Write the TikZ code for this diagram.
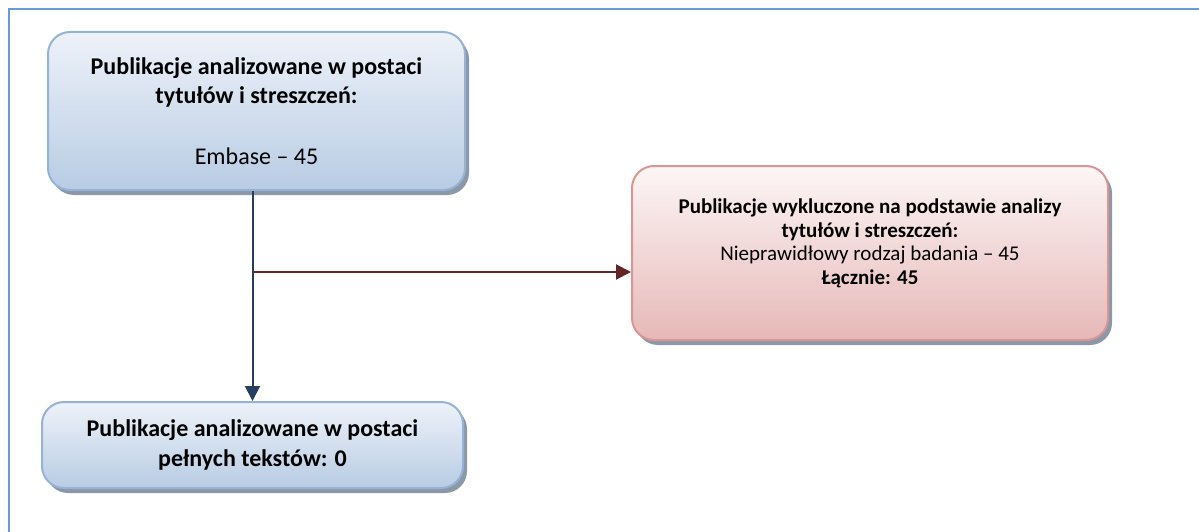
\documentclass[tikz,border=0pt]{standalone}
\usepackage{fontspec}
\setmainfont{Carlito}
\usetikzlibrary{shadows,arrows.meta}

\definecolor{frameblue}{HTML}{6A98DC}
\definecolor{blueedge}{HTML}{95B3D7}
\definecolor{bluetop}{HTML}{EEF2F9}
\definecolor{bluebot}{HTML}{B8CCE4}
\definecolor{redtop}{HTML}{FDF6F6}
\definecolor{redbot}{HTML}{E6B8B7}
\definecolor{rededge}{HTML}{D99694}
\definecolor{navyline}{HTML}{243F60}
\definecolor{maroonline}{HTML}{632523}
\definecolor{shadowgray}{HTML}{8C98A8}

\tikzset{
  x=1pt, y=-1pt,
  flowbox/.style={rounded corners=22pt, line width=2pt, align=center,
    font=\fontsize{24}{29.5}\selectfont,
    drop shadow={shadow xshift=4pt, shadow yshift=-5pt, fill=shadowgray, opacity=1}},
  bluebox/.style={flowbox, draw=blueedge, top color=bluetop, bottom color=bluebot},
  redbox/.style={flowbox, draw=rededge, top color=redtop, bottom color=redbot},
  navyarrow/.style={draw=navyline, line width=2pt, -{Triangle[length=15pt,width=15pt]}},
  maroonarrow/.style={draw=maroonline, line width=2pt, -{Triangle[length=15pt,width=15pt]}},
}

\begin{document}
\begin{tikzpicture}
\useasboundingbox (0,0) rectangle (1199,532);

% frame: top and left rules only
\draw[frameblue, line width=2pt] (9,532) -- (9,9) -- (1199,9);

% boxes
\node[bluebox, minimum width=417pt, minimum height=158pt] (titles) at (256.5,111)
  {\textbf{Publikacje analizowane w postaci}\\
   \textbf{tytułów i streszczeń:}\\[31pt]
   Embase – 45};

\node[redbox, minimum width=476pt, minimum height=174pt] (excluded) at (870,253) {};
\node[align=center, font=\fontsize{21}{23.5}\selectfont] (excludedtext) at (870,243.5)
  {\textbf{Publikacje wykluczone na podstawie analizy}\\
   \textbf{tytułów i streszczeń:}\\
   Nieprawidłowy rodzaj badania – 45\\
   \textbf{Łącznie: 45}};

\node[bluebox, minimum width=421pt, minimum height=86pt, font=\fontsize{24}{30}\selectfont] (fulltext) at (252.5,445)
  {\textbf{Publikacje analizowane w postaci}\\
   \textbf{pełnych tekstów: 0}};

% connectors
\coordinate (split) at (252,272);
\draw[navyarrow] (titles.south -| fulltext.north) -- (fulltext.north);
\draw[maroonarrow] (split) -- (split -| excluded.west);
\end{tikzpicture}
\end{document}
